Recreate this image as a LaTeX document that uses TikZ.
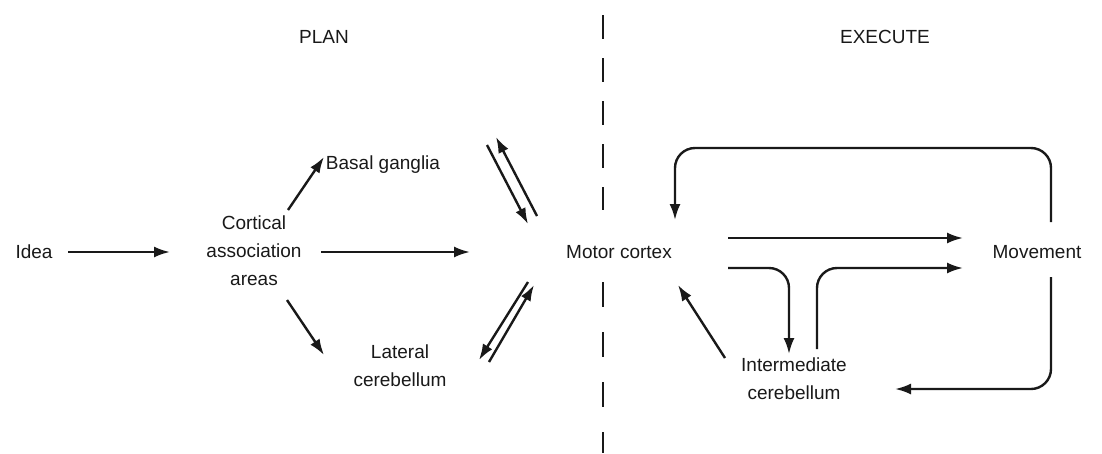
\documentclass[tikz,border=0pt]{standalone}
\usepackage{fontspec}
\setmainfont{Liberation Sans}
\usetikzlibrary{arrows.meta}
\begin{document}
\begin{tikzpicture}[x=1pt,y=-1pt,
  lbl/.style={font=\fontsize{19}{28}\selectfont, align=center, inner sep=0pt, text=black!90},
  arr/.style={line width=2.4pt, draw=black!90, -{Latex[length=16pt,width=11pt]}},
  divider/.style={line width=2.8pt, draw=black!90}]
\useasboundingbox (0,0) rectangle (1102,453);
% divider (interrupted behind "Motor cortex")
\coordinate (dtop) at (603,15);
\coordinate (dmid1) at (603,210);
\coordinate (dmid2) at (603,282);
\coordinate (dbot) at (603,453);
\draw[divider, dash pattern=on 24pt off 19pt] (dtop) -- (dmid1);
\draw[divider, dash pattern=on 25pt off 25pt] (dmid2) -- (dbot);
% labels
\node[lbl] (plan) at (324,37) {PLAN};
\node[lbl] (exec) at (885,37) {EXECUTE};
\node[lbl] (idea) at (34,252) {Idea};
\node[lbl] (cort) at (254,251) {Cortical\\association\\areas};
\node[lbl] (basal) at (383,165) {Basal ganglia};
\node[lbl] (lat) at (400,366) {Lateral\\cerebellum};
\node[lbl] (motor) at (619,252) {Motor cortex};
\node[lbl] (move) at (1037,252) {Movement};
\node[lbl] (inter) at (794,379) {Intermediate\\cerebellum};
% arrow end points
\coordinate (a1) at (68,252);   \coordinate (b1) at (170,252);
\coordinate (a2) at (288,210);  \coordinate (b2) at (324,157);
\coordinate (a3) at (321,252);  \coordinate (b3) at (470,252);
\coordinate (a4) at (287,300);  \coordinate (b4) at (324,355);
\coordinate (a5) at (487,145);  \coordinate (b5) at (528,224);
\coordinate (a6) at (537,216);  \coordinate (b6) at (496,137);
\coordinate (a7) at (528,282);  \coordinate (b7) at (479,360);
\coordinate (a8) at (489,362);  \coordinate (b8) at (534,285);
\coordinate (a9) at (1051,222); \coordinate (b9) at (675,220);
\coordinate (a10) at (728,238); \coordinate (b10) at (963,238);
\coordinate (a11) at (728,268); \coordinate (b11) at (789,354);
\coordinate (a12) at (817,349); \coordinate (b12) at (963,268);
\coordinate (a13) at (725,358); \coordinate (b13) at (678,285);
\coordinate (a14) at (1051,277); \coordinate (b14) at (895,389);
% PLAN arrows
\draw[arr] (a1) -- (b1);
\draw[arr] (a2) -- (b2);
\draw[arr] (a3) -- (b3);
\draw[arr] (a4) -- (b4);
\draw[arr] (a5) -- (b5);
\draw[arr] (a6) -- (b6);
\draw[arr] (a7) -- (b7);
\draw[arr] (a8) -- (b8);
% EXECUTE arrows
\draw[arr, rounded corners=20pt] (a9) -- (a9 |- 0,148) -- (b9 |- 0,148) -- (b9);
\draw[arr] (a10) -- (b10);
\draw[arr, rounded corners=20pt] (a11) -- (b11 |- a11) -- (b11);
\draw[arr, rounded corners=20pt] (a12) -- (a12 |- b12) -- (b12);
\draw[arr] (a13) -- (b13);
\draw[arr, rounded corners=20pt] (a14) -- (a14 |- b14) -- (b14);
\end{tikzpicture}
\end{document}
